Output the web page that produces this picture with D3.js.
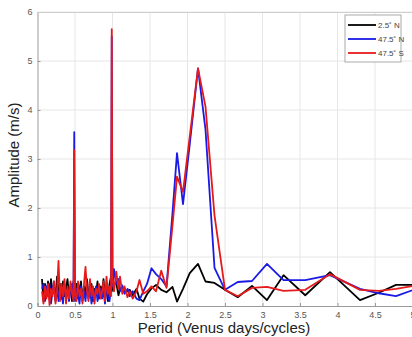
<!DOCTYPE html>
<html>
<head>
<meta charset="utf-8">
<script src="https://cdn.jsdelivr.net/npm/d3@7"></script>
<style>
  html, body { margin: 0; padding: 0; background: #fff; }
  svg { display: block; font-family: "Liberation Sans", Arial, sans-serif; }
</style>
</head>
<body>
<svg id="chart" width="412" height="337"></svg>
<script>
// period grid (Venus days/cycles) shared by all three latitudes
const periods = [
  0.06, 0.08, 0.10, 0.12, 0.14, 0.16, 0.18, 0.20, 0.22, 0.24, 0.26, 0.28, 0.30, 0.32, 0.34, 0.36, 0.38, 0.40, 0.42, 0.44, 0.46, 0.48,
  0.49,
  0.50, 0.52, 0.54, 0.56, 0.58, 0.60, 0.62, 0.64, 0.66, 0.68, 0.70, 0.72, 0.74, 0.76, 0.78, 0.80, 0.82, 0.84, 0.86, 0.88, 0.90, 0.92, 0.94, 0.96, 0.98,
  0.99,
  1.00, 1.02, 1.05, 1.08, 1.10, 1.13, 1.16, 1.20, 1.23, 1.27, 1.32, 1.36, 1.41, 1.46, 1.52, 1.58, 1.65, 1.72, 1.80, 1.86,
  1.94, 2.03, 2.14, 2.24, 2.36, 2.50, 2.67, 2.86, 3.06, 3.28, 3.57, 3.90, 4.30, 4.55, 4.78, 5.05
];

const amp25N = [
  0.55, 0.10, 0.45, 0.20, 0.50, 0.15, 0.55, 0.25, 0.40, 0.10, 0.60, 0.30, 0.45, 0.15, 0.50, 0.20, 0.35, 0.55, 0.20, 0.40, 0.10, 0.50,
  0.35,
  0.20, 0.45, 0.15, 0.35, 0.50, 0.10, 0.40, 0.25, 0.55, 0.20, 0.30, 0.45, 0.10, 0.35, 0.25, 0.50, 0.15, 0.40, 0.30, 0.55, 0.20, 0.35, 0.10, 0.45, 0.60,
  0.30,
  0.37, 0.45, 0.47, 0.22, 0.35, 0.39, 0.29, 0.30, 0.33, 0.22, 0.35, 0.15, 0.09, 0.24, 0.36, 0.43, 0.33, 0.28, 0.39, 0.09,
  0.35, 0.67, 0.86, 0.50, 0.47, 0.33, 0.18, 0.41, 0.12, 0.63, 0.22, 0.69, 0.12, 0.27, 0.43, 0.43
];

const amp475N = [
  0.35, 0.45, 0.10, 0.40, 0.20, 0.45, 0.05, 0.30, 0.50, 0.15, 0.35, 0.10, 0.40, 0.25, 0.05, 0.45, 0.20, 0.30, 0.10, 0.35, 0.45, 0.20,
  3.55,
  0.10, 0.35, 0.25, 0.05, 0.40, 0.20, 0.30, 0.10, 0.45, 0.15, 0.35, 0.05, 0.30, 0.20, 0.40, 0.10, 0.25, 0.35, 0.15, 0.30, 0.05, 0.40, 0.20, 0.10, 0.35,
  5.50,
  0.40, 0.75, 0.45, 0.55, 0.30, 0.42, 0.25, 0.35, 0.20, 0.30, 0.15, 0.12, 0.30, 0.45, 0.77, 0.65, 0.55, 0.40, 1.90, 3.12,
  2.08, 3.30, 4.85, 3.60, 0.78, 0.33, 0.49, 0.51, 0.86, 0.53, 0.53, 0.63, 0.35, 0.26, 0.20, 0.35
];

const amp475S = [
  0.30, 0.05, 0.40, 0.15, 0.45, 0.02, 0.35, 0.20, 0.50, 0.05, 0.30, 0.92, 0.10, 0.45, 0.20, 0.55, 0.05, 0.40, 0.15, 0.50, 0.25, 0.10,
  3.18,
  0.25, 0.10, 0.50, 0.20, 0.35, 0.05, 0.45, 0.80, 0.30, 0.10, 0.55, 0.20, 0.40, 0.05, 0.35, 0.25, 0.45, 0.15, 0.30, 0.50, 0.10, 0.60, 0.25, 0.40, 0.20,
  5.65,
  0.55, 0.30, 0.70, 0.35, 0.60, 0.25, 0.40, 0.18, 0.30, 0.15, 0.30, 0.53, 0.25, 0.30, 0.40, 0.30, 0.72, 0.37, 1.65, 2.64,
  2.33, 3.46, 4.85, 4.07, 1.85, 0.33, 0.20, 0.37, 0.39, 0.31, 0.33, 0.65, 0.33, 0.31, 0.35, 0.42
];

const seriesNames = ["2.5\u02da N", "47.5\u02da N", "47.5\u02da S"];
const seriesColors = ["#000000", "#1a1ae6", "#e61a1a"];
const xTicks = [0, 0.5, 1, 1.5, 2, 2.5, 3, 3.5, 4, 4.5, 5];
const yTicks = [0, 1, 2, 3, 4, 5, 6];

const svg = d3.select("#chart");
const margin = { left: 37.5, top: 12, bottom: 306, right: 412.5 };

const x = d3.scaleLinear().domain([0, 5]).range([margin.left, margin.right]);
const y = d3.scaleLinear().domain([0, 6]).range([margin.bottom, margin.top]);

// grid
const grid = svg.append("g").attr("stroke", "#e6e6e6").attr("stroke-width", 1);
grid.selectAll(".gx").data(xTicks.slice(1)).join("line")
  .attr("x1", d => x(d)).attr("x2", d => x(d))
  .attr("y1", y(0)).attr("y2", y(6));
grid.selectAll(".gy").data(yTicks.slice(1)).join("line")
  .attr("x1", x(0)).attr("x2", x(5))
  .attr("y1", d => y(d)).attr("y2", d => y(d));

// axes, matlab style (ticks pointing inward)
const xAxis = svg.append("g")
  .attr("transform", `translate(0,${y(0)})`)
  .call(d3.axisBottom(x).tickValues(xTicks).tickSize(-3).tickPadding(6).tickFormat(d3.format("")));
const yAxis = svg.append("g")
  .attr("transform", `translate(${x(0)},0)`)
  .call(d3.axisLeft(y).tickValues(yTicks).tickSize(-3).tickPadding(5).tickFormat(d3.format("d")));

[xAxis, yAxis].forEach(a => {
  a.select(".domain").attr("stroke", "#9a9a9a");
  a.selectAll(".tick line").attr("stroke", "#9a9a9a");
  a.selectAll(".tick text").attr("fill", "#555").style("font-size", "9px");
});

// top border
svg.append("line")
  .attr("x1", x(0)).attr("x2", x(5))
  .attr("y1", y(6) + 0.5).attr("y2", y(6) + 0.5)
  .attr("stroke", "#cfcfcf");

// series
const allSeries = [amp25N, amp475N, amp475S];
const line = d3.line()
  .x((d, i) => x(periods[i]))
  .y(d => y(d));

svg.append("g")
  .selectAll("path")
  .data(allSeries)
  .join("path")
  .attr("d", d => line(d))
  .attr("fill", "none")
  .attr("stroke", (d, i) => seriesColors[i])
  .attr("stroke-width", 1.8)
  .attr("stroke-linejoin", "round");

// labels
svg.append("text")
  .attr("x", 224).attr("y", 333)
  .attr("text-anchor", "middle")
  .attr("fill", "#222")
  .style("font-size", "15px")
  .text("Perid (Venus days/cycles)");

svg.append("text")
  .attr("transform", `translate(19,${155}) rotate(-90)`)
  .attr("text-anchor", "middle")
  .attr("fill", "#222")
  .style("font-size", "15px")
  .text("Amplitude (m/s)");

// legend
const legend = svg.append("g").attr("transform", "translate(345,15)");
legend.append("rect")
  .attr("width", 56).attr("height", 47)
  .attr("fill", "#fff")
  .attr("stroke", "#aaa");
const items = legend.selectAll(".item").data(seriesNames).join("g")
  .attr("transform", (d, i) => `translate(0,${10 + i * 14})`);
items.append("line")
  .attr("x1", 3).attr("x2", 31)
  .attr("stroke", (d, i) => seriesColors[i])
  .attr("stroke-width", 1.8);
items.append("text")
  .attr("x", 33).attr("y", 3)
  .attr("fill", "#444")
  .style("font-size", "8px")
  .text(d => d);
</script>
</body>
</html>
